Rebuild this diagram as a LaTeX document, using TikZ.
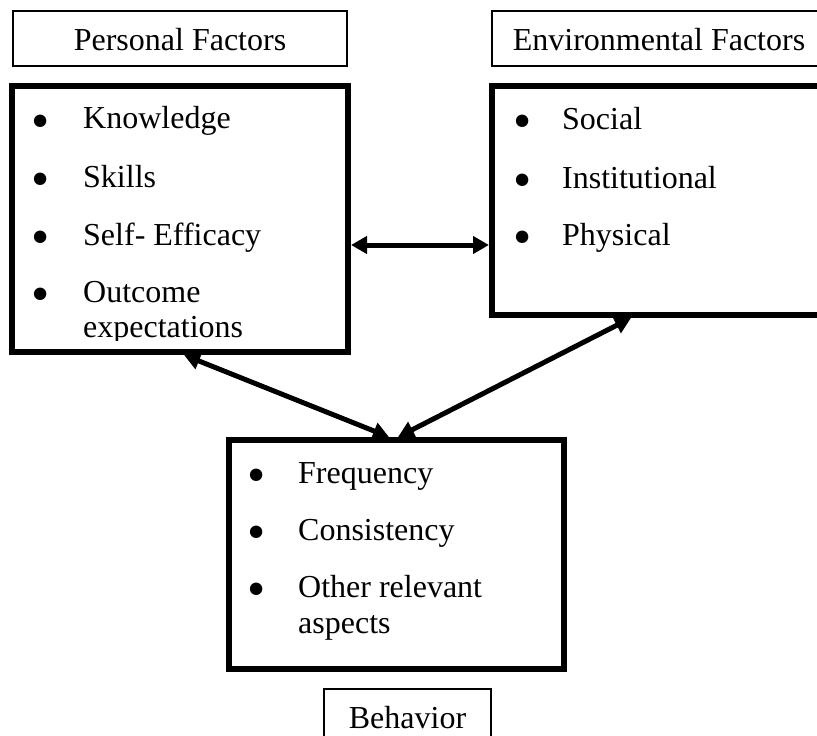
\documentclass[tikz,border=0pt]{standalone}
\usepackage{fontspec}
\setmainfont{Liberation Serif}
\usetikzlibrary{arrows.meta}
\begin{document}
\begin{tikzpicture}[x=1pt,y=-1pt,
  txt/.style={font=\fontsize{32}{38}\selectfont},
  bigbox/.style={draw, line width=6pt, inner sep=0pt},
  labelbox/.style={txt, draw, line width=2pt, inner sep=0pt, minimum height=55pt,
    text height=23pt, text depth=0pt, anchor=base},
  item/.style={txt, anchor=base west, inner sep=0pt},
  bul/.style={font=\fontsize{52}{52}\selectfont, anchor=center, inner sep=0pt, yshift=-6pt},
  link/.style={line width=5pt, >={Triangle[length=16pt,width=17pt]}, <->}
]
\useasboundingbox (0,0) rectangle (817,736);
\clip (0,0) rectangle (817,736);

% title boxes
\node[labelbox, minimum width=334pt] (plabel) at (180,50) {Personal Factors};
\node[labelbox, minimum width=334pt] (elabel) at (659,50) {Environmental Factors};
\node[labelbox, minimum width=167pt] (blabel) at (407.5,728) {Behavior};

% main boxes
\node[bigbox, minimum width=336pt, minimum height=266pt] (pbox) at (180,219) {};
\node[bigbox, minimum width=336pt, minimum height=229pt] (ebox) at (660,200.5) {};
\node[bigbox, minimum width=335pt, minimum height=229pt] (bbox) at (396.5,554.5) {};

% personal items
\begin{scope}
\clip (15,89) rectangle (345,340);
\node[bul] (pb1) at (41,120.5) {•};
\node[item] (pt1) at (83,128) {Knowledge};
\node[bul] (pb2) at (41,179) {•};
\node[item] (pt2) at (83,187) {Skills};
\node[bul] (pb3) at (41,237) {•};
\node[item] (pt3) at (83,245) {Self- Efficacy};
\node[bul] (pb4) at (41,294) {•};
\node[item] (pt4) at (83,302) {Outcome};
\node[item] (pt5) at (83,337) {expectations};
\end{scope}

% environmental items
\node[bul] (eb1) at (523,121) {•};
\node[item] (et1) at (562,129) {Social};
\node[bul] (eb2) at (523,180) {•};
\node[item] (et2) at (562,188) {Institutional};
\node[bul] (eb3) at (523,237) {•};
\node[item] (et3) at (562,245) {Physical};

% behavior items
\node[bul] (bb1) at (257,475) {•};
\node[item] (bt1) at (298,483) {Frequency};
\node[bul] (bb2) at (257,532) {•};
\node[item] (bt2) at (298,540) {Consistency};
\node[bul] (bb3) at (257,589) {•};
\node[item] (bt3) at (298,597) {Other relevant};
\node[item] (bt4) at (298,633) {aspects};

% connectors
\coordinate (hy) at (0,245);
\coordinate (pl) at (184,0);
\coordinate (bl) at (389,0);
\coordinate (er) at (631,0);
\coordinate (br) at (398,0);
\draw[link] (pbox.east |- hy) -- (ebox.west |- hy);
\draw[link] (pbox.south -| pl) -- (bbox.north -| bl);
\draw[link] (ebox.south -| er) -- (bbox.north -| br);
\end{tikzpicture}
\end{document}
